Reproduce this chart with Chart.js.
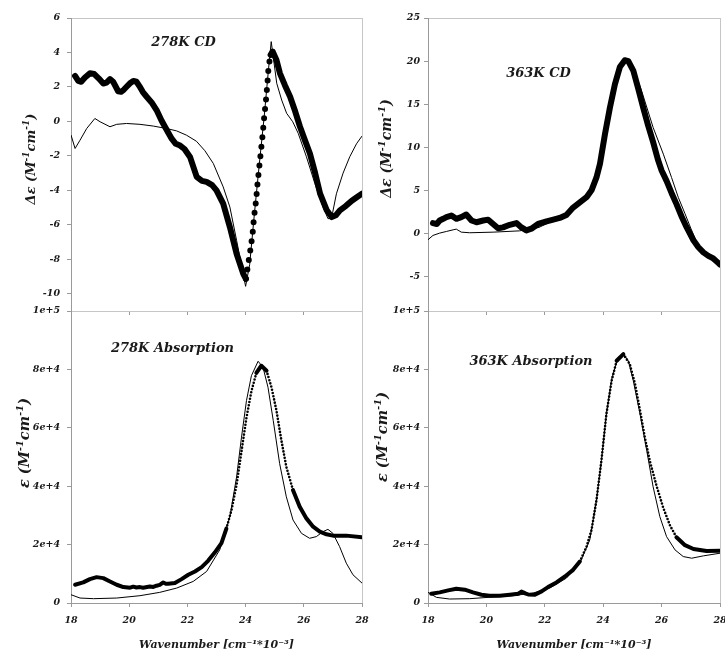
<!DOCTYPE html>
<html>
<head>
<meta charset="utf-8">
<title>CD and absorption spectra at 278 K and 363 K</title>
<script src="https://cdn.jsdelivr.net/npm/chart.js@4.4.1/dist/chart.umd.min.js"></script>
<style>
  html, body { margin: 0; padding: 0; background: #ffffff; }
  #figure { position: relative; width: 725px; height: 655px; }
  #figure canvas { position: absolute; left: 0; top: 0; }
</style>
</head>
<body>
<div id="figure">
  <canvas id="cdCold" width="725" height="655"></canvas>
  <canvas id="cdHot" width="725" height="655"></canvas>
  <canvas id="absCold" width="725" height="655"></canvas>
  <canvas id="absHot" width="725" height="655"></canvas>
</div>
<script>
// ---- axis ticks ----
const wavenumberTicks = [18, 20, 22, 24, 26, 28];
const cdColdTicks = [-10, -8, -6, -4, -2, 0, 2, 4, 6];
const cdHotTicks = [-5, 0, 5, 10, 15, 20, 25];
const absTicks = [0, 20000, 40000, 60000, 80000, 100000];

// ---- 278 K circular dichroism (Δε, M^-1 cm^-1) ----
const cdColdExpX = [18.14, 18.25, 18.35, 18.48, 18.65, 18.8, 18.95, 19.11, 19.22, 19.34, 19.45, 19.51, 19.62,
  19.72, 19.82, 19.91, 20.05, 20.14, 20.25, 20.35, 20.47, 20.6, 20.77, 20.94, 21.11, 21.29, 21.46, 21.6, 21.75,
  21.9, 22.09, 22.32, 22.5, 22.66, 22.85, 23.0, 23.23, 23.46, 23.69, 23.92, 24.01, 24.09, 24.17, 24.24, 24.29,
  24.36, 24.41, 24.47, 24.53, 24.59, 24.64, 24.7, 24.75, 24.79, 24.86, 24.93, 25.06, 25.18, 25.35, 25.53, 25.7,
  25.87, 26.04, 26.21, 26.39, 26.56, 26.79, 26.96, 27.1, 27.24, 27.45, 27.65, 27.82, 28.0];
const cdColdExpY = [2.64, 2.35, 2.3, 2.55, 2.79, 2.75, 2.5, 2.2, 2.25, 2.45, 2.3, 2.1, 1.75,
  1.72, 1.85, 2.01, 2.25, 2.35, 2.3, 2.05, 1.7, 1.43, 1.1, 0.66, 0.05, -0.5, -1.0, -1.3, -1.4,
  -1.6, -2.06, -3.22, -3.45, -3.51, -3.7, -4.0, -4.77, -6.13, -7.68, -8.84, -9.13, -8.26, -7.39, -6.52, -5.55,
  -4.58, -3.61, -2.64, -1.67, -0.7, 0.27, 1.24, 2.21, 3.18, 3.86, 4.05, 3.57, 2.79, 2.1, 1.43, 0.6,
  -0.31, -1.1, -1.86, -3.0, -4.19, -5.16, -5.55, -5.45, -5.16, -4.9, -4.6, -4.4, -4.19];
const cdColdFitX = [18.0, 18.14, 18.31, 18.54, 18.82, 19.0, 19.34, 19.57, 19.91, 20.37, 20.83, 21.28, 21.63,
  21.97, 22.31, 22.6, 22.89, 23.23, 23.46, 23.69, 23.87, 24.0, 24.14, 24.3, 24.47, 24.64, 24.78, 24.88, 25.07,
  25.24, 25.41, 25.62, 25.81, 26.09, 26.38, 26.66, 26.83, 26.95, 27.12, 27.35, 27.58, 27.81, 28.0];
const cdColdFitY = [-0.79, -1.57, -1.09, -0.41, 0.17, -0.02, -0.31, -0.17, -0.12, -0.17, -0.27, -0.41, -0.55,
  -0.8, -1.15, -1.7, -2.44, -3.8, -4.97, -6.9, -8.46, -9.57, -8.3, -5.4, -2.5, 0.3, 2.9, 4.63, 2.21,
  1.24, 0.47, -0.02, -0.7, -2.05, -3.6, -4.96, -5.64, -5.64, -4.2, -3.0, -2.05, -1.3, -0.85];

// ---- 363 K circular dichroism ----
const cdHotExpX = [18.17, 18.3, 18.4, 18.52, 18.63, 18.8, 18.97, 19.14, 19.31, 19.49, 19.66, 19.89, 20.06,
  20.23, 20.4, 20.57, 20.8, 21.03, 21.2, 21.37, 21.54, 21.77, 22.06, 22.29, 22.51, 22.74, 22.97, 23.2, 23.43,
  23.6, 23.77, 23.89, 24.06, 24.23, 24.4, 24.57, 24.74, 24.86, 25.03, 25.2, 25.37, 25.54, 25.71, 25.87, 26.0,
  26.17, 26.34, 26.51, 26.68, 26.86, 27.09, 27.26, 27.43, 27.6, 27.77, 27.9, 28.0];
const cdHotExpY = [1.2, 1.1, 1.5, 1.7, 1.9, 2.08, 1.7, 1.9, 2.2, 1.5, 1.3, 1.5, 1.6,
  1.1, 0.6, 0.7, 1.0, 1.2, 0.7, 0.35, 0.55, 1.1, 1.4, 1.6, 1.8, 2.15, 3.0, 3.6, 4.2,
  5.0, 6.5, 8.1, 11.5, 14.6, 17.3, 19.3, 20.1, 20.0, 18.9, 16.8, 14.6, 12.5, 10.6, 8.6, 7.3,
  6.1, 4.7, 3.4, 2.0, 0.7, -0.8, -1.6, -2.2, -2.6, -2.9, -3.3, -3.6];
const cdHotFitX = [18.0, 18.17, 18.4, 18.63, 18.86, 18.97, 19.14, 19.43, 20.23, 21.14, 21.8, 22.29, 22.74,
  22.97, 23.2, 23.43, 23.6, 23.77, 23.89, 24.06, 24.23, 24.4, 24.57, 24.74, 24.9, 25.03, 25.31, 25.71,
  26.06, 26.34, 26.57, 26.8, 27.0, 27.2, 27.43, 27.77, 28.0];
const cdHotFitY = [-0.73, -0.23, 0.04, 0.23, 0.42, 0.5, 0.15, 0.08, 0.15, 0.3, 0.7, 1.5, 2.1,
  2.9, 3.5, 4.1, 4.9, 6.4, 8.0, 11.4, 14.5, 17.3, 19.4, 20.3, 20.0, 19.2, 16.6, 12.3,
  9.2, 6.5, 4.2, 2.3, 0.6, -1.0, -2.0, -2.8, -3.5];

// ---- 278 K absorption (ε, M^-1 cm^-1) ----
const absColdExpX = [18.14, 18.42, 18.65, 18.88, 19.11, 19.34, 19.57, 19.8, 20.03, 20.14, 20.25, 20.37, 20.48,
  20.71, 20.83, 20.94, 21.05, 21.17, 21.26, 21.34, 21.57, 21.8, 22.03, 22.26, 22.49, 22.71, 22.94, 23.17,
  23.34, 23.52, 23.69, 23.86, 24.03, 24.2, 24.37, 24.54, 24.72, 24.89, 25.06, 25.23, 25.4, 25.63, 25.86,
  26.09, 26.32, 26.55, 26.78, 27.0, 27.46, 28.0];
const absColdExpY = [6250, 7050, 8180, 8860, 8520, 7390, 6250, 5450, 5230, 5600, 5300, 5450, 5230,
  5680, 5500, 5910, 6200, 7050, 6600, 6590, 6820, 8180, 9660, 10800, 12270, 14430, 17270, 20500,
  25500, 32000, 40500, 52000, 63500, 72500, 78800, 81250, 79550, 73860, 65910, 55680, 46590, 38640, 32950,
  28980, 26140, 24430, 23520, 23070, 23070, 22500];
const absColdFitX = [18.0, 18.31, 18.77, 19.57, 20.37, 21.05, 21.63, 22.2, 22.66, 23.11, 23.46, 23.69, 23.86,
  24.03, 24.2, 24.43, 24.6, 24.77, 24.95, 25.17, 25.4, 25.63, 25.92, 26.2, 26.43, 26.66, 26.83, 27.0,
  27.23, 27.46, 27.69, 28.0];
const absColdFitY = [2840, 1700, 1480, 1700, 2500, 3640, 5110, 7390, 10800, 18180, 29550, 43180, 56820,
  69320, 77840, 82800, 80680, 73860, 62500, 47730, 36360, 28410, 23860, 22160, 22730, 24430, 25230, 23860,
  19320, 13640, 9660, 6820];

// ---- 363 K absorption ----
const absHotExpX = [18.11, 18.4, 18.69, 18.97, 19.26, 19.54, 19.83, 20.11, 20.46, 20.8, 21.09, 21.2, 21.26,
  21.35, 21.43, 21.66, 21.89, 22.11, 22.4, 22.69, 22.97, 23.2, 23.43, 23.6, 23.77, 23.94, 24.11, 24.29,
  24.46, 24.69, 24.91, 25.09, 25.26, 25.43, 25.6, 25.83, 26.06, 26.29, 26.51, 26.8, 27.09, 27.54, 28.0];
const absHotExpY = [3180, 3640, 4320, 4890, 4550, 3640, 2840, 2500, 2500, 2840, 3180, 3900, 3640,
  3200, 2950, 2840, 3980, 5450, 7050, 9090, 11360, 14200, 19320, 25000, 35230, 48860, 64770, 76140,
  82950, 85230, 81820, 75000, 66000, 56500, 48500, 40000, 32500, 26500, 22500, 19800, 18500, 17800, 17900];
const absHotFitX = [18.0, 18.29, 18.74, 19.43, 20.23, 20.91, 21.6, 22.17, 22.74, 23.2, 23.54, 23.77, 23.94,
  24.11, 24.29, 24.51, 24.69, 24.86, 25.03, 25.26, 25.49, 25.71, 25.94, 26.17, 26.46, 26.74, 27.03, 27.43, 28.0];
const absHotFitY = [3640, 1930, 1360, 1480, 2050, 2500, 3410, 5110, 8520, 13640, 21590, 35230, 48860,
  64770, 76700, 84090, 85230, 82950, 76140, 64770, 52270, 39770, 29550, 22730, 18180, 15910, 15340, 16140, 17050];

// ---- helpers ----
const FONT = '"DejaVu Serif", "Liberation Serif", serif';
const INK = '#1a1a1a';
const zip = (xs, ys) => xs.map((x, i) => ({ x, y: ys[i] }));

function pixelSlope(ctx) {
  const dx = Math.abs(ctx.p1.x - ctx.p0.x);
  const dy = Math.abs(ctx.p1.y - ctx.p0.y);
  return dy / Math.max(dx, 0.01);
}

// thin frame around the plot area (top and right edges stay light grey)
const framePlugin = {
  id: 'frame',
  beforeDraw(chart) {
    const { ctx, chartArea: a } = chart;
    ctx.save();
    ctx.strokeStyle = '#c6c6c6';
    ctx.lineWidth = 1;
    ctx.strokeRect(Math.round(a.left) + 0.5, Math.round(a.top) + 0.5,
      Math.round(a.right - a.left), Math.round(a.bottom - a.top));
    ctx.restore();
  }
};

// panel captions and y-axis titles, with ^{...} drawn as superscript
const captionPlugin = {
  id: 'captions',
  afterDraw(chart, args, opts) {
    const ctx = chart.ctx;
    for (const item of opts.items || []) {
      const size = item.size;
      const parts = [];
      const re = /\^\{([^}]*)\}/g;
      let last = 0, m;
      while ((m = re.exec(item.text)) !== null) {
        if (m.index > last) parts.push({ t: item.text.slice(last, m.index), sup: false });
        parts.push({ t: m[1], sup: true });
        last = re.lastIndex;
      }
      if (last < item.text.length) parts.push({ t: item.text.slice(last), sup: false });
      const fontFor = p => `italic bold ${p.sup ? Math.round(size * 0.68) : size}px ${FONT}`;
      let total = 0;
      for (const p of parts) { ctx.font = fontFor(p); p.w = ctx.measureText(p.t).width; total += p.w; }
      ctx.save();
      ctx.translate(item.x, item.y);
      if (item.rotate) ctx.rotate(-Math.PI / 2);
      ctx.fillStyle = INK;
      ctx.textBaseline = 'alphabetic';
      let x = -total / 2;
      const base = size * 0.36;
      for (const p of parts) {
        ctx.font = fontFor(p);
        ctx.fillText(p.t, x, p.sup ? base - size * 0.42 : base);
        x += p.w;
      }
      ctx.restore();
    }
  }
};

function makePanel(id, cfg) {
  const axisFont = { family: FONT, size: 9.5, style: 'italic', weight: 'bold' };
  return new Chart(document.getElementById(id), {
    type: 'scatter',
    data: {
      datasets: [
        {
          label: 'calculated',
          data: zip(cfg.fitX, cfg.fitY),
          showLine: true,
          borderColor: '#000',
          borderWidth: 1,
          pointRadius: 0,
          tension: 0,
          order: 0
        },
        {
          label: 'experimental',
          data: zip(cfg.expX, cfg.expY),
          showLine: true,
          borderColor: '#000',
          borderWidth: cfg.thick,
          borderCapStyle: 'round',
          borderJoinStyle: 'round',
          pointRadius: 0,
          tension: 0,
          order: 1,
          segment: {
            borderDash: ctx => pixelSlope(ctx) > cfg.dotSlope ? [0, cfg.dotGap] : undefined,
            borderWidth: ctx => pixelSlope(ctx) > cfg.dotSlope ? cfg.dotSize : undefined
          }
        }
      ]
    },
    options: {
      responsive: false,
      animation: false,
      events: [],
      layout: { padding: cfg.padding },
      plugins: {
        legend: { display: false },
        tooltip: { enabled: false },
        captions: { items: cfg.captions }
      },
      scales: {
        x: {
          type: 'linear',
          position: 'bottom',
          min: 18,
          max: 28,
          afterBuildTicks: s => { s.ticks = wavenumberTicks.map(v => ({ value: v })); },
          afterFit: s => { s.height = cfg.xHeight; s.paddingLeft = 0; s.paddingRight = 0; },
          ticks: {
            display: cfg.xLabels,
            font: axisFont,
            color: INK,
            padding: 8,
            maxRotation: 0,
            callback: v => String(v)
          },
          grid: { drawOnChartArea: false, drawTicks: true, tickLength: 4, color: '#9a9a9a' },
          border: { display: true, color: '#9a9a9a', width: 1 },
          title: {
            display: cfg.xLabels,
            text: 'Wavenumber [cm⁻¹*10⁻³]',
            font: { family: FONT, size: 11, style: 'italic', weight: 'bold' },
            color: INK,
            padding: { top: 0, bottom: 3 }
          }
        },
        y: {
          type: 'linear',
          min: cfg.yMin,
          max: cfg.yMax,
          afterBuildTicks: s => { s.ticks = cfg.yTicks.map(v => ({ value: v })); },
          afterFit: s => { s.width = 71; s.paddingTop = 0; s.paddingBottom = 0; },
          ticks: {
            font: axisFont,
            color: INK,
            padding: cfg.yPad,
            callback: cfg.yFormat
          },
          grid: { drawOnChartArea: false, drawTicks: true, tickLength: 4, color: '#9a9a9a' },
          border: { display: true, color: '#9a9a9a', width: 1 }
        }
      }
    },
    plugins: [framePlugin, captionPlugin]
  });
}

const plain = v => String(v);
const sci = v => (v === 0 ? '0' : v.toExponential(0));

makePanel('cdCold', {
  expX: cdColdExpX, expY: cdColdExpY, fitX: cdColdFitX, fitY: cdColdFitY,
  thick: 6, dotSlope: 5, dotGap: 9.5, dotSize: 6,
  padding: { left: 0, right: 363, top: 18, bottom: 340 },
  xHeight: 4, xLabels: false,
  yMin: -11, yMax: 6, yTicks: cdColdTicks, yFormat: plain, yPad: 7,
  captions: [
    { text: '278K CD', x: 183.5, y: 41, size: 13 },
    { text: 'Δε (M^{-1}cm^{-1})', x: 30, y: 159, size: 13, rotate: true }
  ]
});

makePanel('cdHot', {
  expX: cdHotExpX, expY: cdHotExpY, fitX: cdHotFitX, fitY: cdHotFitY,
  thick: 6, dotSlope: 1000, dotGap: 9, dotSize: 6,
  padding: { left: 357, right: 5, top: 18, bottom: 340 },
  xHeight: 4, xLabels: false,
  yMin: -9, yMax: 25, yTicks: cdHotTicks, yFormat: plain, yPad: 4,
  captions: [
    { text: '363K CD', x: 538.5, y: 72.5, size: 13 },
    { text: 'Δε (M^{-1}cm^{-1})', x: 386, y: 148.5, size: 14, rotate: true }
  ]
});

makePanel('absCold', {
  expX: absColdExpX, expY: absColdExpY, fitX: absColdFitX, fitY: absColdFitY,
  thick: 4, dotSlope: 3, dotGap: 3.3, dotSize: 2.6,
  padding: { left: 0, right: 363, top: 311, bottom: 0 },
  xHeight: 52, xLabels: true,
  yMin: 0, yMax: 100000, yTicks: absTicks, yFormat: sci, yPad: 7,
  captions: [
    { text: '278K Absorption', x: 172.5, y: 347, size: 13 },
    { text: 'ε (M^{-1}cm^{-1})', x: 24, y: 443, size: 14.5, rotate: true }
  ]
});

makePanel('absHot', {
  expX: absHotExpX, expY: absHotExpY, fitX: absHotFitX, fitY: absHotFitY,
  thick: 4, dotSlope: 1.5, dotGap: 3.3, dotSize: 2.6,
  padding: { left: 357, right: 5, top: 311, bottom: 0 },
  xHeight: 52, xLabels: true,
  yMin: 0, yMax: 100000, yTicks: absTicks, yFormat: sci, yPad: 4,
  captions: [
    { text: '363K Absorption', x: 531, y: 360, size: 13 },
    { text: 'ε (M^{-1}cm^{-1})', x: 382, y: 437, size: 14.5, rotate: true }
  ]
});
</script>
</body>
</html>
